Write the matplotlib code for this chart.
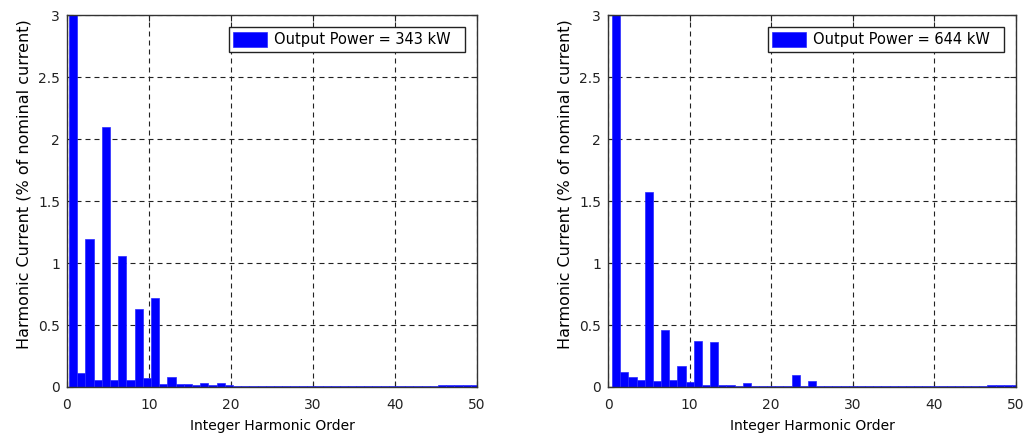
import numpy as np
import matplotlib
matplotlib.use("Agg")
import matplotlib.pyplot as plt

plt.rcParams['font.family'] = ['DejaVu Sans']

# harmonic orders 1..50
orders = np.arange(1, 51)

# 343 kW case (% of nominal current); fundamental is off scale
current_343 = [100, 0.11, 1.19, 0.06, 2.10, 0.06, 1.06, 0.06, 0.63, 0.075,
               0.72, 0.024, 0.083, 0.027, 0.027, 0.016, 0.03, 0.016, 0.03, 0.016,
               0.01, 0.01, 0.01, 0.01, 0.01, 0.01, 0.01, 0.01, 0.01, 0.01,
               0.01, 0.01, 0.01, 0.01, 0.01, 0.01, 0.01, 0.01, 0.01, 0.01,
               0.01, 0.01, 0.01, 0.01, 0.01, 0.02, 0.02, 0.02, 0.02, 0.02]

# 644 kW case
current_644 = [100, 0.12, 0.083, 0.06, 1.57, 0.05, 0.46, 0.06, 0.17, 0.04,
               0.37, 0.02, 0.36, 0.02, 0.02, 0.01, 0.035, 0.01, 0.01, 0.01,
               0.01, 0.005, 0.097, 0.01, 0.05, 0.01, 0.01, 0.01, 0.01, 0.008,
               0.008, 0.008, 0.008, 0.008, 0.008, 0.008, 0.008, 0.008, 0.008, 0.008,
               0.008, 0.008, 0.008, 0.008, 0.008, 0.008, 0.015, 0.015, 0.015, 0.015]

labels = ['Output Power = 343 kW', 'Output Power = 644 kW']
offsets = [-0.25, 0.0]

fig = plt.figure(figsize=(10.29, 4.36), dpi=100)
ax1 = fig.add_axes([0.0651, 0.1124, 0.3984, 0.853])
ax2 = fig.add_axes([0.5909, 0.1124, 0.3965, 0.853])

for ax, vals, lab, off in zip([ax1, ax2], [current_343, current_644], labels, offsets):
    ax.bar(orders + off, vals, width=1.0, color='#0000ff', edgecolor='#2a2aff',
           linewidth=0.5, label=lab + '\u00a0\u00a0', zorder=2)
    ax.set_xlim(0, 50)
    ax.set_ylim(0, 3)
    ax.set_xticks([0, 10, 20, 30, 40, 50])
    ax.set_yticks([0, 0.5, 1, 1.5, 2, 2.5, 3])
    ax.set_yticklabels(['0', '0.5', '1', '1.5', '2', '2.5', '3'])
    ax.grid(True, color='#222222', linestyle=(0, (4.5, 3.6)), linewidth=0.8, zorder=1)
    ax.set_axisbelow(True)
    ax.tick_params(direction='in', length=4, labelsize=10, colors='#222222',
                   top=True, right=True)
    ax.tick_params(axis='x', pad=8)
    ax.tick_params(axis='y', pad=5)
    for s in ax.spines.values():
        s.set_color('#333333')
        s.set_linewidth(1.0)
        s.set_zorder(3)
    ax.set_xlabel('Integer Harmonic Order', fontsize=10, labelpad=5)
    ax.set_ylabel('Harmonic Current (% of nominal current)', fontsize=11.5)
    ax.yaxis.set_label_coords(-0.087, 0.546)
    leg = ax.legend(loc='upper right', fontsize=10.5, fancybox=False, framealpha=1,
                    edgecolor='#222222', handlelength=2.3, handleheight=1.25,
                    borderpad=0.3, handletextpad=0.5, borderaxespad=0.85)
    leg.get_frame().set_linewidth(1.0)

fig.savefig('out.png', dpi=100)
